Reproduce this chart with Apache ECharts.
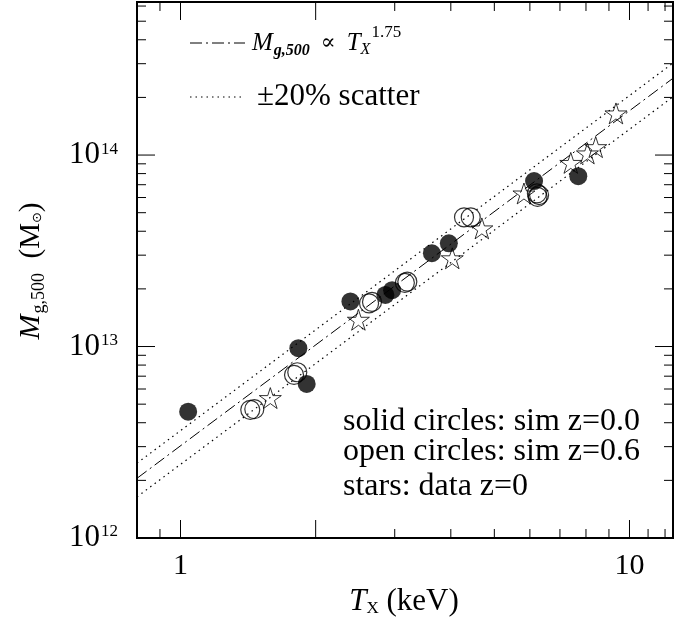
<!DOCTYPE html>
<html>
<head>
<meta charset="utf-8">
<script src="https://cdn.jsdelivr.net/npm/echarts@6/dist/echarts.min.js"></script>
<style>
  html, body { margin: 0; padding: 0; background: #fff; }
  #main { width: 696px; height: 625px; }
</style>
</head>
<body>
<div id="main"></div>
<script>
// axis ranges
var xMin = 0.8, xMax = 12.5
var yMin = 1e12, yMax = 6.3e14

// solid circles: sim z=0.0
var solidT = [1.04, 1.83, 1.91, 2.39, 2.86, 2.96, 3.63, 3.96, 6.13, 7.69]
var solidM = [4.57e12, 9.8e12, 6.38e12, 1.72e13, 1.86e13, 1.97e13, 3.07e13, 3.46e13, 7.31e13, 7.76e13]

// open circles: sim z=0.6
var openT = [1.43, 1.46, 1.79, 1.82, 2.63, 2.67, 3.16, 3.20, 4.28, 4.43, 6.22, 6.29, 6.24]
var openM = [4.67e12, 4.71e12, 7.11e12, 7.34e12, 1.68e13, 1.71e13, 2.15e13, 2.18e13, 4.73e13, 4.73e13, 6.3e13, 6.18e13, 6.05e13]

// stars: data z=0
var starT = [1.585, 2.49, 4.03, 4.69, 5.82, 7.40, 8.06, 8.41, 9.33]
var starM = [5.38e12, 1.38e13, 2.89e13, 4.14e13, 6.3e13, 9.1e13, 1.02e14, 1.10e14, 1.65e14]

// M ∝ T^1.75 relation and ±20% band
var fitNorm = 3.03e12
var fitSlope = 1.75
var fitT = [xMin, xMax]
var scatterHi = 1.2, scatterLo = 0.8

// tick positions
var xMajorTicks = [1, 2, 10]
var xMinorTicks = [0.9, 3, 4, 5, 6, 7, 8, 9, 11, 12]
var yMajorTicks = [1e13, 1e14]
var yMinorTicks = [2e12, 3e12, 4e12, 5e12, 6e12, 7e12, 8e12, 9e12,
                   2e13, 3e13, 4e13, 5e13, 6e13, 7e13, 8e13, 9e13,
                   2e14, 3e14, 4e14, 5e14, 6e14]

var SERIF = '"Liberation Serif", "DejaVu Serif", serif'

function zip(a, b) {
	var out = []
	for (var i = 0; i < a.length; i++) out.push([a[i], b[i]])
	return out
}
function fitLine(f) {
	return fitT.map(function (t) { return [t, f * fitNorm * Math.pow(t, fitSlope)] })
}

var starPath = 'path://M50 0 L61.17 34.63 L97.55 34.55 L68.07 55.87 L79.39 90.45 L50 69 L20.61 90.45 L31.93 55.87 L2.45 34.55 L38.83 34.63 Z'

function tickStyle() { return { stroke: '#000', lineWidth: 1 } }

function renderXTick(params, api) {
	var v = api.value(0)
	var len = api.value(2) ? 18 : 9
	var b = api.coord([v, yMin]), t = api.coord([v, yMax])
	return { type: 'group', children: [
		{ type: 'line', shape: { x1: b[0], y1: b[1], x2: b[0], y2: b[1] - len }, style: tickStyle() },
		{ type: 'line', shape: { x1: t[0], y1: t[1], x2: t[0], y2: t[1] + len }, style: tickStyle() }
	]}
}
function renderYTick(params, api) {
	var v = api.value(1)
	var len = api.value(2) ? 18 : 9
	var l = api.coord([xMin, v]), r = api.coord([xMax, v])
	return { type: 'group', children: [
		{ type: 'line', shape: { x1: l[0], y1: l[1], x2: l[0] + len, y2: l[1] }, style: tickStyle() },
		{ type: 'line', shape: { x1: r[0], y1: r[1], x2: r[0] - len, y2: r[1] }, style: tickStyle() }
	]}
}

var xTickData = xMajorTicks.map(function (v) { return [v, yMin, 1] })
	.concat(xMinorTicks.map(function (v) { return [v, yMin, 0] }))
var yTickData = yMajorTicks.map(function (v) { return [xMin, v, 1] })
	.concat(yMinorTicks.map(function (v) { return [xMin, v, 0] }))

function isDecade(v) {
	var e = Math.log10(v)
	return Math.abs(e - Math.round(e)) < 1e-6 ? Math.round(e) : null
}

var chart = echarts.init(document.getElementById('main'))
var option = {
	animation: false,
	grid: {
		left: 137, right: 23, top: 2, bottom: 87,
		show: true, borderColor: '#000', borderWidth: 2
	},
	xAxis: {
		type: 'log', logBase: 10, min: xMin, max: xMax,
		axisLine: { show: false },
		axisTick: { show: false },
		splitLine: { show: false },
		axisLabel: {
			margin: 13,
			color: '#000', fontFamily: SERIF, fontSize: 30,
			formatter: function (v) {
				var e = isDecade(v)
				return e === null ? '' : String(Math.round(Math.pow(10, e)))
			}
		}
	},
	yAxis: {
		type: 'log', logBase: 10, min: yMin, max: yMax,
		axisLine: { show: false },
		axisTick: { show: false },
		splitLine: { show: false },
		axisLabel: {
			margin: 19,
			formatter: function (v) {
				var e = isDecade(v)
				return e === null ? '' : '{b|10}{s|' + e + '}'
			},
			rich: {
				b: { fontFamily: SERIF, fontSize: 31, color: '#000' },
				s: { fontFamily: SERIF, fontSize: 17, color: '#000', padding: [0, 0, 12, 1] }
			}
		}
	},
	graphic: [
		// legend samples
		{ type: 'line', shape: { x1: 190, y1: 43, x2: 245, y2: 43 },
		  style: { stroke: '#000', lineWidth: 1, lineDash: [12, 4, 2, 4] } },
		{ type: 'line', shape: { x1: 190, y1: 97, x2: 243, y2: 97 },
		  style: { stroke: '#000', lineWidth: 1.2, lineDash: [1.5, 4] } },
		{ type: 'text', x: 252, y: 43,
		  style: {
			text: '{m|M}{g|g,500}{t|  ∝  }{m|T}{x|X}{p|1.75}',
			verticalAlign: 'middle',
			rich: {
				m: { fontFamily: SERIF, fontSize: 25, fontStyle: 'italic', fill: '#000' },
				g: { fontFamily: SERIF, fontSize: 16, fontStyle: 'italic', fontWeight: 'bold', fill: '#000', padding: [16, 0, 0, 1] },
				t: { fontFamily: SERIF, fontSize: 22, fill: '#000' },
				x: { fontFamily: SERIF, fontSize: 16, fontStyle: 'italic', fill: '#000', padding: [14, 0, 0, 0] },
				p: { fontFamily: SERIF, fontSize: 17, fill: '#000', padding: [0, 0, 20, 1] }
			}
		  } },
		{ type: 'text', x: 257, y: 97,
		  style: { text: '±20% scatter', fontFamily: SERIF, fontSize: 31, fill: '#000', verticalAlign: 'middle' } },
		// annotations
		{ type: 'text', x: 343, y: 422,
		  style: { text: 'solid circles: sim z=0.0', fontFamily: SERIF, fontSize: 32, fill: '#000', verticalAlign: 'middle' } },
		{ type: 'text', x: 343, y: 452,
		  style: { text: 'open circles: sim z=0.6', fontFamily: SERIF, fontSize: 32, fill: '#000', verticalAlign: 'middle' } },
		{ type: 'text', x: 343, y: 487,
		  style: { text: 'stars: data z=0', fontFamily: SERIF, fontSize: 32, fill: '#000', verticalAlign: 'middle' } },
		// axis titles
		{ type: 'text', x: 404, y: 602,
		  style: {
			text: '{t|T}{x|X}{k| (keV)}',
			align: 'center', verticalAlign: 'middle',
			rich: {
				t: { fontFamily: SERIF, fontSize: 31, fontStyle: 'italic', fill: '#000' },
				x: { fontFamily: SERIF, fontSize: 17, fill: '#000', padding: [14, 0, 0, 0] },
				k: { fontFamily: SERIF, fontSize: 31, fill: '#000' }
			}
		  } },
		{ type: 'text', x: 31, y: 271, rotation: Math.PI / 2,
		  style: {
			text: '{m|M}{g|g,500}{k|  (M}{o|⊙}{k|)}',
			align: 'center', verticalAlign: 'middle',
			rich: {
				m: { fontFamily: SERIF, fontSize: 30, fontStyle: 'italic', fill: '#000' },
				g: { fontFamily: SERIF, fontSize: 18, fill: '#000', padding: [16, 0, 0, 1] },
				k: { fontFamily: SERIF, fontSize: 29, fill: '#000' },
				o: { fontFamily: '"DejaVu Sans", sans-serif', fontSize: 13, fill: '#000', padding: [14, 0, 0, 0] }
			}
		  } }
	],
	series: [
		{
			type: 'custom', renderItem: renderXTick, data: xTickData,
			clip: false, silent: true, z: 1
		},
		{
			type: 'custom', renderItem: renderYTick, data: yTickData,
			clip: false, silent: true, z: 1
		},
		{
			name: 'fit', type: 'line', data: fitLine(1), symbol: 'none',
			lineStyle: { color: '#000', width: 1, type: [12, 4, 2, 4] }, z: 2
		},
		{
			name: 'hi', type: 'line', data: fitLine(scatterHi), symbol: 'none',
			lineStyle: { color: '#000', width: 1.2, type: [1.5, 4] }, z: 2
		},
		{
			name: 'lo', type: 'line', data: fitLine(scatterLo), symbol: 'none',
			lineStyle: { color: '#000', width: 1.2, type: [1.5, 4] }, z: 2
		},
		{
			name: 'stars', type: 'scatter', data: zip(starT, starM),
			symbol: starPath, symbolSize: 22, symbolKeepAspect: true,
			itemStyle: { color: 'rgba(255,255,255,0)', borderColor: '#000', borderWidth: 1 }, z: 3
		},
		{
			name: 'open', type: 'scatter', data: zip(openT, openM),
			symbol: 'circle', symbolSize: 19,
			itemStyle: { color: 'rgba(255,255,255,0)', borderColor: '#000', borderWidth: 1.2 }, z: 3
		},
		{
			name: 'solid', type: 'scatter', data: zip(solidT, solidM),
			symbol: 'circle', symbolSize: 18,
			itemStyle: { color: '#000' }, z: 4
		}
	]
}
chart.setOption(option)
</script>
</body>
</html>
